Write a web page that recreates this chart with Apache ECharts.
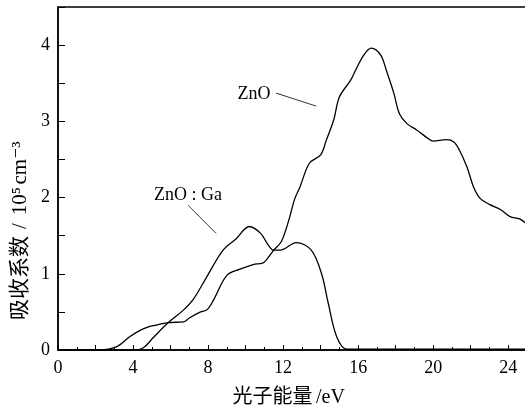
<!DOCTYPE html>
<html><head><meta charset="utf-8">
<script src="https://cdn.jsdelivr.net/npm/echarts@6/dist/echarts.min.js"></script>
<style>html,body{margin:0;padding:0;background:#fff}#c{width:525px;height:407px}</style>
</head><body><div id="c"></div>
<script>
// photon energy (eV) / absorption coefficient (10^5 cm^-3)
const znoX = [0, 2.2, 3.1, 3.8, 4.4, 4.9, 5.3, 5.9, 6.7, 7.0, 7.6, 7.95, 8.3, 9.0, 9.7, 10.4, 10.9, 11.1, 11.5, 11.9, 12.3, 12.6, 12.9, 13.4, 14.0, 14.3, 14.7, 15.0, 15.6, 15.9, 16.3, 16.7, 17.2, 17.5, 17.9, 18.2, 18.6, 19.1, 19.7, 20.0, 20.7, 21.1, 21.4, 21.8, 22.15, 22.5, 23.0, 23.6, 24.1, 24.6, 25];
const znoY = [0, 0, 0.04, 0.17, 0.26, 0.31, 0.33, 0.36, 0.37, 0.42, 0.50, 0.53, 0.66, 0.98, 1.06, 1.12, 1.14, 1.18, 1.31, 1.42, 1.7, 1.97, 2.14, 2.45, 2.56, 2.75, 3.02, 3.32, 3.54, 3.69, 3.87, 3.96, 3.87, 3.67, 3.37, 3.10, 2.97, 2.89, 2.78, 2.74, 2.76, 2.73, 2.62, 2.40, 2.14, 1.99, 1.91, 1.84, 1.75, 1.72, 1.65];
const gaX = [0, 4.0, 4.55, 5.07, 5.88, 6.67, 7.2, 7.93, 8.8, 9.5, 10.2, 10.8, 11.2, 11.5, 11.85, 12.7, 13.5, 14.05, 14.4, 14.86, 15.4, 16, 25];
const gaY = [0, 0, 0.03, 0.16, 0.36, 0.52, 0.66, 0.96, 1.31, 1.46, 1.62, 1.53, 1.38, 1.31, 1.31, 1.41, 1.31, 1.0, 0.62, 0.17, 0.01, 0.01, 0.01];
const seriesNames = ['ZnO', 'ZnO∶Ga'];
const xTickLabels = [0, 4, 8, 12, 16, 20, 24];
const yTickLabels = [0, 1, 2, 3, 4];
// annotation: label position and pointer line (data units)
const znoLabelAt = [10.45, 3.36];
const znoPointer = [[11.63, 3.37], [13.76, 3.20]];
const gaLabelAt = [6.93, 2.03];
const gaPointer = [[6.93, 1.90], [8.43, 1.53]];

const serif = '"Liberation Serif","DejaVu Serif","Noto Sans CJK SC",serif';
const pair = (xs, ys) => xs.map((x, i) => [x, ys[i]]);

const chart = echarts.init(document.getElementById('c'), null, {renderer: 'canvas'});
function pointer(seg) {
  return {
    silent: true, symbol: 'none', animation: false,
    lineStyle: {color: '#333', width: 1, type: 'solid'},
    label: {show: false},
    data: [[{coord: seg[0]}, {coord: seg[1]}]]
  };
}
function labelPoint(labelAt, text) {
  return {
    silent: true, symbol: 'circle', symbolSize: 0, animation: false,
    label: {show: true, position: 'inside', formatter: text, color: '#000', fontFamily: serif, fontSize: 18},
    data: [{coord: labelAt}]
  };
}
const base = {fontFamily: serif, color: '#000', fontSize: 21};
chart.setOption({
  animation: false,
  grid: {left: 58, width: 469, top: 7, height: 343, show: true, borderColor: '#000', borderWidth: 1.5,
         outerBoundsMode: 'none', containLabel: false},
  graphic: [{
    type: 'text', x: 20, y: 232, rotation: Math.PI / 2, silent: true,
    style: {
      text: '{c|吸收系数}{sl|/}{n|10⁵}{n2|cm⁻³}',
      align: 'center', verticalAlign: 'middle',
      rich: {
        c: Object.assign({}, base, {width: 88}),
        sl: Object.assign({}, base, {width: 16, align: 'center'}),
        n: Object.assign({}, base, {width: 34, align: 'center'}),
        n2: Object.assign({}, base, {width: 42, align: 'center'})
      }
    }
  }],
  xAxis: {
    type: 'value', min: 0, max: 25, interval: 2,
    name: '{c|光子能量}{l|/eV}', nameLocation: 'middle', nameGap: 38,
    nameTextStyle: Object.assign({}, base, {fontSize: 20, rich: {c: Object.assign({}, base, {fontSize: 20, width: 76}), l: Object.assign({}, base, {fontSize: 20, width: 40, align: 'center'})}}),
    axisLine: {show: true, lineStyle: {color: '#000', width: 1.5}},
    axisTick: {show: true, inside: true, length: 5, lineStyle: {color: '#000', width: 1}},
    minorTick: {show: true, splitNumber: 2, length: 3, lineStyle: {color: '#000', width: 1}},
    splitLine: {show: false},
    axisLabel: {margin: 9, color: '#000', fontFamily: serif, fontSize: 18,
      formatter: v => xTickLabels.includes(v) ? String(v) : ''}
  },
  yAxis: {
    type: 'value', min: 0, max: 4.5, interval: 0.5,
    axisLine: {show: true, lineStyle: {color: '#000', width: 1.5}},
    axisTick: {show: true, inside: true, length: 7, lineStyle: {color: '#000', width: 1}},
    splitLine: {show: false},
    axisLabel: {margin: 8, color: '#000', fontFamily: serif, fontSize: 18,
      formatter: v => yTickLabels.includes(v) ? String(v) : ''}
  },
  series: [
    {name: seriesNames[0], type: 'line', data: pair(znoX, znoY), smooth: 0.35, showSymbol: false,
     lineStyle: {color: '#000', width: 1.3}, markLine: pointer(znoPointer), markPoint: labelPoint(znoLabelAt, seriesNames[0])},
    {name: seriesNames[1], type: 'line', data: pair(gaX, gaY), smooth: 0.35, showSymbol: false,
     lineStyle: {color: '#000', width: 1.3}, markLine: pointer(gaPointer), markPoint: labelPoint(gaLabelAt, 'ZnO : Ga')}
  ]
});
</script></body></html>
